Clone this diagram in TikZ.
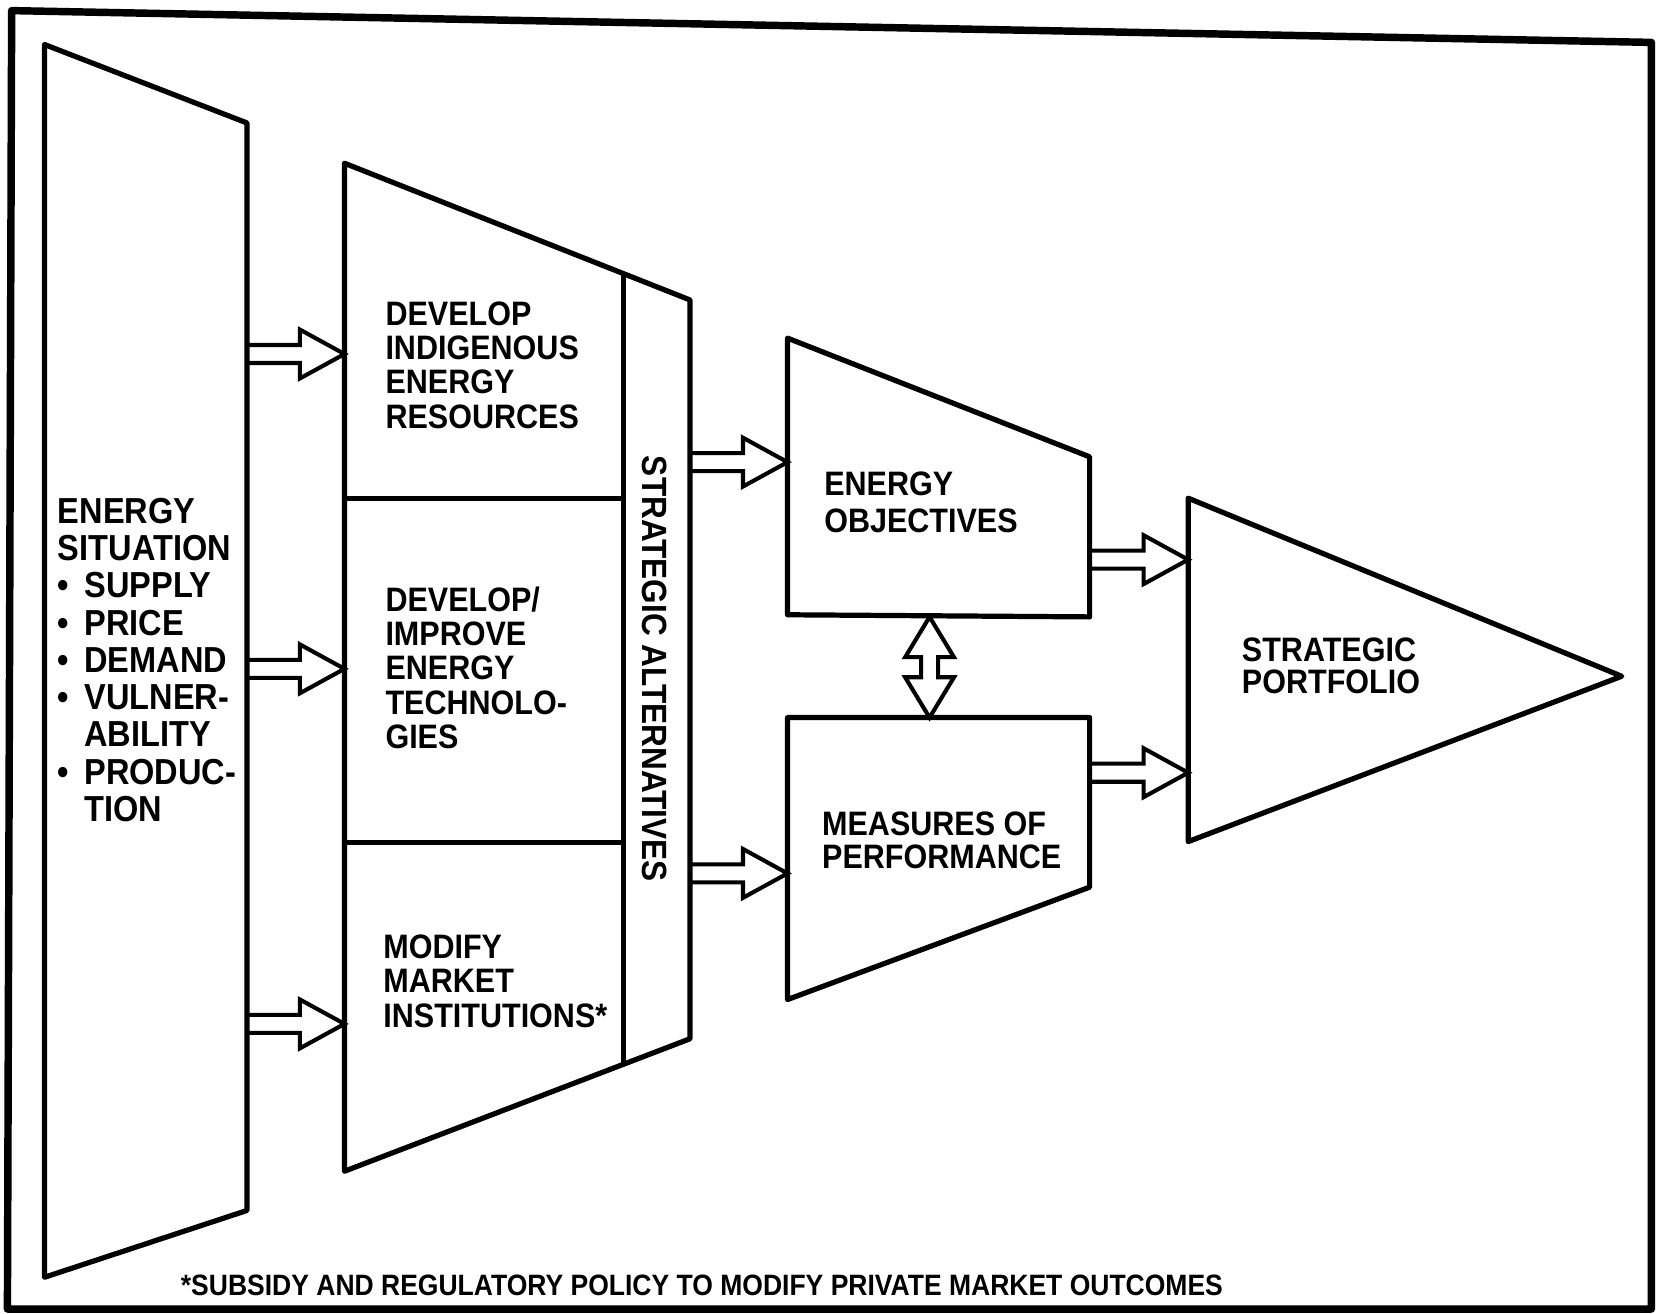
\documentclass[tikz,border=0pt]{standalone}
\usepackage{fontspec}
\setmainfont{Liberation Sans}[FakeStretch=0.9]
\usetikzlibrary{calc}

\newcommand\arrshaft{0.085cm}
\newcommand\arrwing{0.23cm}
\newcommand\arrhead{0.42cm}
\newcommand\bul{\makebox[0.25cm][l]{\textbullet}}
\newcommand\hind{\hspace*{0.25cm}}

\tikzset{
  fatarrow/.style={draw, line width=1.1pt, line join=miter, to path={
    let \p1=($(\tikztotarget)!\arrhead!(\tikztostart)$) in
    ($(\tikztostart)!\arrshaft!90:(\tikztotarget)$) -- ($(\p1)!\arrshaft!90:(\tikztotarget)$)
    -- ($(\p1)!\arrwing!90:(\tikztotarget)$) -- (\tikztotarget)
    -- ($(\p1)!\arrwing!-90:(\tikztotarget)$) -- ($(\p1)!\arrshaft!-90:(\tikztotarget)$)
    -- ($(\tikztostart)!\arrshaft!-90:(\tikztotarget)$)}},
  fatarrows/.style={draw, line width=1.1pt, line join=miter, to path={
    let \p1=($(\tikztotarget)!0.38cm!(\tikztostart)$), \p2=($(\tikztostart)!0.38cm!(\tikztotarget)$) in
    (\tikztostart) -- ($(\p2)!\arrwing!90:(\tikztotarget)$) -- ($(\p2)!0.08cm!90:(\tikztotarget)$)
    -- ($(\p1)!0.08cm!90:(\tikztotarget)$) -- ($(\p1)!\arrwing!90:(\tikztotarget)$) -- (\tikztotarget)
    -- ($(\p1)!\arrwing!-90:(\tikztotarget)$) -- ($(\p1)!0.08cm!-90:(\tikztotarget)$)
    -- ($(\p2)!0.08cm!-90:(\tikztotarget)$) -- ($(\p2)!\arrwing!-90:(\tikztotarget)$) -- cycle}}
}

\begin{document}
\begin{tikzpicture}[x=0.01cm, y=-0.01cm,
  panel/.style={line width=1.4pt, line join=round},
  frame/.style={line width=2pt, line join=round},
  boxtext/.style={anchor=base west, inner sep=0pt, align=left, font=\bfseries\fontsize{9.1}{9.2}\selectfont},
  note/.style={anchor=base west, inner sep=0pt, font=\bfseries\fontsize{7.9}{8}\selectfont}]

\useasboundingbox (0,0) rectangle (1568,1239);

% page border
\draw[frame] (7,1235) -- (11,10) -- (1558,40) -- (1558,1235) -- cycle;

% energy situation (text nodes sit on the baseline of their last line)
\draw[panel] (42,42) -- (233,116) -- (233,1142) -- (42,1205) -- cycle;
\node[boxtext, font=\bfseries\fontsize{9.7}{10}\selectfont] (sit) at (54,775)
  {ENERGY\\SITUATION\\\bul SUPPLY\\\bul PRICE\\\bul DEMAND\\\bul VULNER-\\\hind ABILITY\\\bul PRODUC-\\\hind TION};

% strategic alternatives
\draw[panel] (325,154) -- (651,283) -- (651,980) -- (325,1105) -- cycle;
\draw[panel] (588,258) -- (588,1004);
\draw[panel] (325,470) -- (588,470);
\draw[panel] (325,795) -- (588,795);
\node[boxtext] (dev) at (363,404) {DEVELOP\\INDIGENOUS\\ENERGY\\RESOURCES};
\node[boxtext] (imp) at (363,706) {DEVELOP/\\IMPROVE\\ENERGY\\TECHNOLO-\\GIES};
\node[boxtext] (mod) at (361,969) {MODIFY\\MARKET\\INSTITUTIONS*};
\node[rotate=-90, inner sep=0pt, font=\bfseries\fontsize{9.4}{9.4}\selectfont] (alt) at (618,631) {STRATEGIC ALTERNATIVES};

% objectives and measures
\draw[panel] (743,319) -- (1028,431) -- (1028,582) -- (743,580) -- cycle;
\node[boxtext, font=\bfseries\fontsize{9.1}{9.9}\selectfont] (obj) at (777,502) {ENERGY\\OBJECTIVES};
\draw[panel] (743,677) -- (1028,677) -- (1028,837) -- (743,943) -- cycle;
\node[boxtext, font=\bfseries\fontsize{9.1}{8.8}\selectfont] (mea) at (775,819) {MEASURES OF\\PERFORMANCE};

% strategic portfolio
\draw[panel] (1121,470) -- (1530,638) -- (1121,794) -- cycle;
\node[boxtext, font=\bfseries\fontsize{9.1}{8.6}\selectfont] (port) at (1171,654) {STRATEGIC\\PORTFOLIO};

% connectors
\foreach \yy/\k in {334/1,631/2,966/3} {
  \coordinate (sit-o\k) at (233,\yy);
  \coordinate (alt-i\k) at (325,\yy);
  \draw[fatarrow] (sit-o\k) to (alt-i\k);
}
\coordinate (alt-o1) at (651,436);
\coordinate (obj-i) at (743,436);
\coordinate (alt-o2) at (651,824);
\coordinate (mea-i) at (743,824);
\coordinate (obj-o) at (1028,528);
\coordinate (port-i1) at (1121,528);
\coordinate (mea-o) at (1028,729);
\coordinate (port-i2) at (1121,729);
\coordinate (obj-s) at (877,582);
\coordinate (mea-n) at (877,677);
\draw[fatarrow] (alt-o1) to (obj-i);
\draw[fatarrow] (alt-o2) to (mea-i);
\draw[fatarrow] (obj-o) to (port-i1);
\draw[fatarrow] (mea-o) to (port-i2);
\draw[fatarrows] (obj-s) to (mea-n);

\node[note] (fn) at (170,1222) {*SUBSIDY AND REGULATORY POLICY TO MODIFY PRIVATE MARKET OUTCOMES};

\end{tikzpicture}
\end{document}
